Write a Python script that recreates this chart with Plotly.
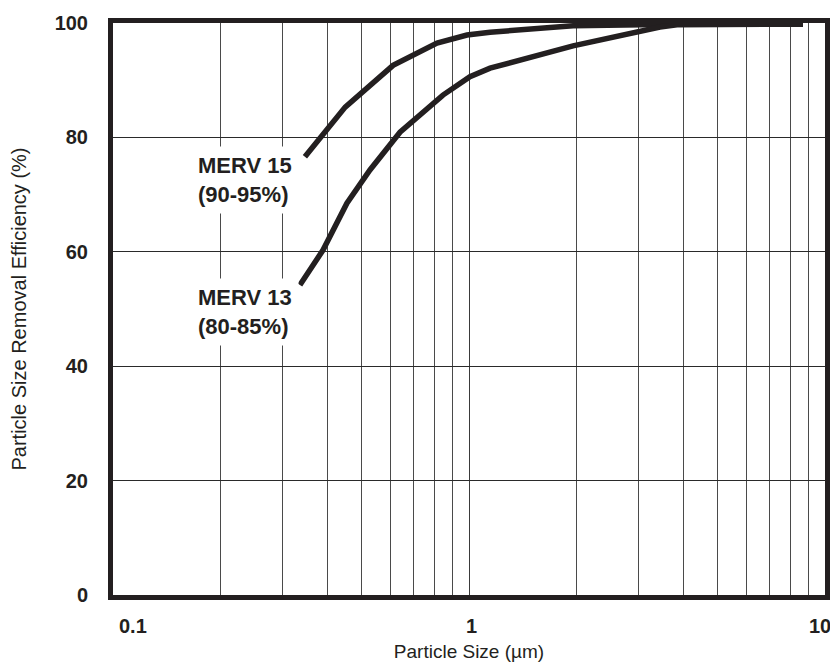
import math
import plotly.graph_objects as go

# Particle size (µm) and removal efficiency (%)
merv15_size = [0.346, 0.389, 0.449, 0.612, 0.813, 0.987, 1.146, 1.96, 3.84, 8.67]
merv15_eff = [76.6, 80.4, 85.3, 92.6, 96.5, 97.9, 98.4, 99.5, 99.8, 99.8]

merv13_size = [0.335, 0.389, 0.454, 0.527, 0.640, 0.845, 1.006, 1.146, 1.96, 2.78, 3.44, 3.84, 8.67]
merv13_eff = [54.2, 60.3, 68.5, 74.3, 80.9, 87.4, 90.6, 92.1, 96.0, 98.1, 99.3, 99.7, 99.8]

x_tick_vals = [0.1, 1, 10]
x_tick_text = ["0.1", "1", "10"]
y_tick_vals = [0, 20, 40, 60, 80, 100]

labels = [
    ("MERV 15<br>(90-95%)", 0.1854, 0.7255),
    ("MERV 13<br>(80-85%)", 0.1854, 0.4948),
]

INK = "#231f20"
FONT = "Liberation Sans, Arial, sans-serif"

fig = go.Figure()
fig.add_trace(go.Scatter(x=merv15_size, y=merv15_eff, mode="lines",
                         line=dict(color=INK, width=5.5), name="MERV 15",
                         showlegend=False))
fig.add_trace(go.Scatter(x=merv13_size, y=merv13_eff, mode="lines",
                         line=dict(color=INK, width=5.5), name="MERV 13",
                         showlegend=False))

for text, px, py in labels:
    fig.add_annotation(
        x=px, y=py, xref="paper", yref="paper", text="<b>" + text + "</b>",
        xanchor="center", yanchor="middle",
        showarrow=False, align="left", bgcolor="white", borderpad=6,
        font=dict(family=FONT, size=22, color=INK),
    )

# x tick labels: placed at the axis values, nudged inward at the ends like the reference
tick_anchor = [("left", 4), ("center", 2), ("right", 8)]
for v, t, (anc, dx) in zip(x_tick_vals, x_tick_text, tick_anchor):
    fig.add_annotation(
        x=math.log10(v), y=0, xref="x", yref="paper", text="<b>%s</b>" % t,
        xanchor=anc, yanchor="top", xshift=dx, yshift=-18,
        showarrow=False, font=dict(family=FONT, size=20, color=INK),
    )

# page body adds an 8px margin, so the figure is 8px smaller and shifted
fig.update_layout(
    width=830, height=656,
    margin=dict(l=105, r=13, t=15, b=69, autoexpand=False),
    paper_bgcolor="white", plot_bgcolor="white",
    font=dict(family=FONT, color=INK),
)

fig.update_xaxes(
    type="log", range=[-1, 1], automargin=False,
    tickvals=x_tick_vals, showticklabels=False,
    showgrid=True, gridcolor="#3a3a3a", gridwidth=1.2,
    minor=dict(dtick="D1", showgrid=True, gridcolor="#4a4a4a", gridwidth=1.2, ticks=""),
    showline=True, linecolor=INK, linewidth=5, mirror=True,
    ticks="", zeroline=False,
    title=dict(text="Particle Size (µm)", font=dict(size=19, color=INK, family=FONT), standoff=47),
)
fig.update_yaxes(
    range=[0, 100], tickvals=y_tick_vals, automargin=False,
    ticktext=["<b>%d</b>" % v for v in y_tick_vals],
    tickfont=dict(size=20, color=INK, family=FONT),
    ticklabeloverflow="allow",
    showgrid=True, gridcolor="#2a2a2a", gridwidth=1.2,
    showline=True, linecolor=INK, linewidth=5, mirror=True,
    ticks="", ticklabelstandoff=16, zeroline=False,
    title=dict(text="Particle Size Removal Efficiency (%)",
               font=dict(size=20, color=INK, family=FONT), standoff=25),
)

fig.write_html("out.html")
